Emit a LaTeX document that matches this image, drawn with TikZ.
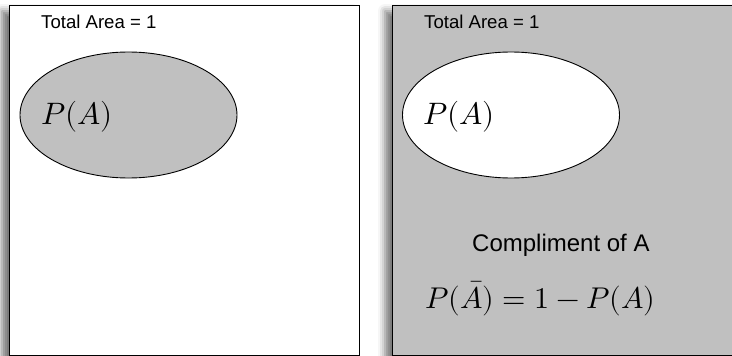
\documentclass[tikz,border=0pt]{standalone}
\usepackage{fontspec}
\usepackage{unicode-math}
\setmainfont{Liberation Sans}
\setmathfont{Latin Modern Math}
\usetikzlibrary{shapes.geometric,shadows.blur}
\definecolor{areagray}{RGB}{192,192,192}
\tikzset{
  panel/.style={draw=black, line width=1pt,
    blur shadow={shadow xshift=-7pt, shadow yshift=-6pt, shadow blur radius=7pt, shadow opacity=55}},
  event/.style={ellipse, draw=black, line width=0.9pt, minimum width=217pt, minimum height=126pt, inner sep=0pt},
  label/.style={inner sep=0pt, font=\fontsize{18.6}{20}\selectfont},
  mathlbl/.style={inner sep=0pt, font=\fontsize{31}{34}\selectfont},
}
\begin{document}
\begin{tikzpicture}[x=1pt,y=-1pt]
\useasboundingbox (0,0) rectangle (732,356);
% left panel
\draw[panel, fill=white] (9,5) rectangle (359,355);
\node[label, anchor=base west] (lt) at (41,28) {Total Area = 1};
\node[event, fill=areagray] (le) at (128.5,115) {};
\node[mathlbl, anchor=base west] (lp) at (41,124) {$P(A)$};
% right panel
\draw[panel, fill=areagray] (392,5) rectangle (740,355);
\node[label, anchor=base west] (rt) at (424,28) {Total Area = 1};
\node[event, fill=white] (re) at (511,115) {};
\node[mathlbl, anchor=base west] (rp) at (423,124) {$P(A)$};
\node[inner sep=0pt, font=\fontsize{24}{26}\selectfont, anchor=base west] (comp) at (472,251) {Compliment of A};
\node[mathlbl, font=\fontsize{30}{33}\selectfont, anchor=base west] (form) at (425,308) {$P(\bar{A}) = 1 - P(A)$};
\end{tikzpicture}
\end{document}
